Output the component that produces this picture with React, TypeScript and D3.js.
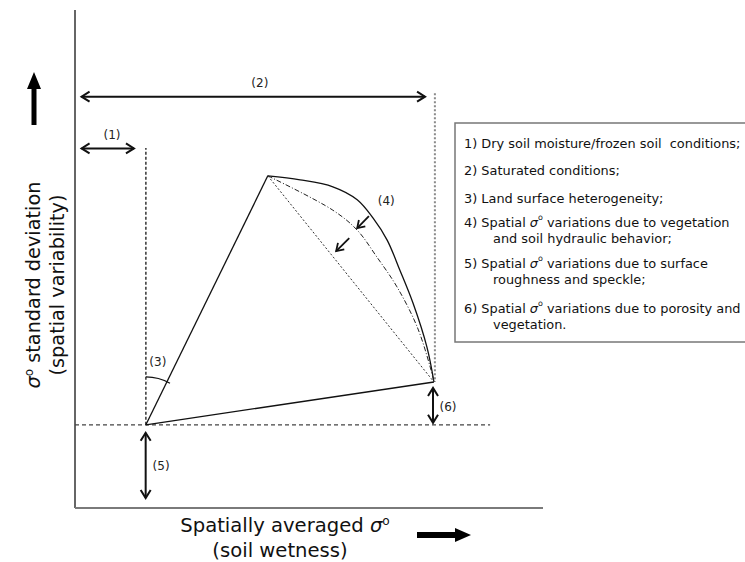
import React from "react";
import * as d3 from "d3";

const W = 745;
const H = 562;

// Conceptual space: spatially averaged backscatter (x) vs. its spatial std. dev. (y), 0–100
const xDomain = [0, 100];
const yDomain = [0, 100];

// Vertices of the triangle-like envelope
const dryPoint: [number, number] = [15.15, 16.7];
const peakPoint: [number, number] = [41.2, 66.7];
const wetPoint: [number, number] = [76.7, 25.3];

// Upper (solid) envelope from peak to wet end
const upperEnvelope: [number, number][] = [
  [41.2, 66.7], [48.1, 65.9], [55.1, 64.5], [60.3, 61.9], [63.7, 58.2],
  [66.7, 53.8], [69.4, 47.8], [72.2, 41.2], [75.2, 32.3], [76.7, 25.3],
];

// Intermediate (dash-dot) envelope
const middleEnvelope: [number, number][] = [
  [41.2, 66.7], [55.1, 59.8], [60.3, 55.8], [64.5, 50.4], [68.8, 44.4],
  [73.1, 36.4], [75.9, 28.3], [76.7, 25.3],
];

// Small arrows showing the envelope shrinking
const shrinkArrows: [number, number][][] = [
  [[62.8, 58.6], [60.3, 56.2]],
  [[58.6, 54.2], [55.8, 51.6]],
];

// Reference guides
const baselineY = 16.7;
const baselineEnd = 88.7;
const dryGuideTop = 72.3;
const wetGuideX = 76.9;
const wetGuideTop = 83.3;

// Double-headed range arrows
const rangeArrows: { id: string; from: [number, number]; to: [number, number] }[] = [
  { id: "(2)", from: [1.4, 82.6], to: [74.8, 82.6] },
  { id: "(1)", from: [1.4, 72.2], to: [12.6, 72.2] },
  { id: "(5)", from: [15.1, 15.1], to: [15.1, 2.0] },
  { id: "(6)", from: [76.5, 24.1], to: [76.5, 17.1] },
];

// Tag labels: [text, x, y]
const tagLabels: [string, number, number][] = [
  ["(2)", 39.5, 85.3],
  ["(1)", 7.9, 74.9],
  ["(3)", 17.7, 29.3],
  ["(4)", 66.5, 61.6],
  ["(5)", 18.4, 8.4],
  ["(6)", 79.7, 20.3],
];

// Legend entries: each row may carry an italic sigma-nought
const legendRows: { parts: string[]; indent: boolean }[] = [
  { parts: ["1) Dry soil moisture/frozen soil  conditions;"], indent: false },
  { parts: ["2) Saturated conditions;"], indent: false },
  { parts: ["3) Land surface heterogeneity;"], indent: false },
  { parts: ["4) Spatial ", "σ", "o", " variations due to vegetation"], indent: false },
  { parts: ["and soil hydraulic behavior;"], indent: true },
  { parts: ["5) Spatial ", "σ", "o", " variations due to surface"], indent: false },
  { parts: ["roughness and speckle;"], indent: true },
  { parts: ["6) Spatial ", "σ", "o", " variations due to porosity and"], indent: false },
  { parts: ["vegetation."], indent: true },
];
const legendRowY = [143, 170, 198, 222, 238, 263, 279, 308, 324];

const FONT = "'DejaVu Sans', sans-serif";

const x = d3.scaleLinear().domain(xDomain).range([75, 543]);
const y = d3.scaleLinear().domain(yDomain).range([508, 10]);

const line = d3
  .line<[number, number]>()
  .x((d) => x(d[0]))
  .y((d) => y(d[1]));

const smooth = d3
  .line<[number, number]>()
  .x((d) => x(d[0]))
  .y((d) => y(d[1]))
  .curve(d3.curveCatmullRom.alpha(0.5));

// Open chevron head at point `tip`, pointing away from `from`
function chevron(from: [number, number], tip: [number, number], len = 8, half = 5) {
  const ang = Math.atan2(tip[1] - from[1], tip[0] - from[0]);
  const bx = tip[0] - len * Math.cos(ang);
  const by = tip[1] - len * Math.sin(ang);
  const nx = -Math.sin(ang) * half;
  const ny = Math.cos(ang) * half;
  return `M${bx + nx},${by + ny}L${tip[0]},${tip[1]}L${bx - nx},${by - ny}`;
}

function SigmaText({ parts, size }: { parts: string[]; size: number }) {
  return (
    <>
      {parts.map((p, i) => {
        if (p === "σ")
          return (
            <tspan key={i} fontStyle="italic">
              σ
            </tspan>
          );
        if (p === "o")
          return (
            <tspan key={i} fontSize={size * 0.62} dy={-size * 0.35}>
              o
            </tspan>
          );
        const prevSup = parts[i - 1] === "o";
        return (
          <tspan key={i} dy={prevSup ? size * 0.35 : undefined}>
            {p}
          </tspan>
        );
      })}
    </>
  );
}

export default function App() {
  const A: [number, number] = [x(dryPoint[0]), y(dryPoint[1])];
  const B: [number, number] = [x(peakPoint[0]), y(peakPoint[1])];
  const C: [number, number] = [x(wetPoint[0]), y(wetPoint[1])];

  // Angle marker (3) between vertical guide and the A–B side
  const abAngle = Math.atan2(B[1] - A[1], B[0] - A[0]);
  const arcPath = d3.path();
  arcPath.arc(A[0], A[1], 48, -Math.PI / 2, abAngle + 0.07);

  const legendX = 455;
  const legendTop = 123;
  const legendBottom = 342;

  return (
    <svg
      width={W}
      height={H}
      style={{ position: "absolute", left: 0, top: 0, background: "#fff" }}
      fontFamily={FONT}
    >
      {/* axes */}
      <line x1={x(0)} y1={y(100)} x2={x(0)} y2={y(0)} stroke="#333" strokeWidth={1.5} />
      <line x1={x(0)} y1={y(0)} x2={x(100)} y2={y(0)} stroke="#7a7a7a" strokeWidth={2.2} />

      {/* guides */}
      <line
        x1={x(0)}
        y1={y(baselineY)}
        x2={x(baselineEnd)}
        y2={y(baselineY)}
        stroke="#444"
        strokeWidth={1.3}
        strokeDasharray="4,3"
      />
      <line
        x1={A[0]}
        y1={A[1]}
        x2={A[0]}
        y2={y(dryGuideTop)}
        stroke="#000"
        strokeWidth={1.2}
        strokeDasharray="3,2"
      />
      <line
        x1={x(wetGuideX)}
        y1={y(wetGuideTop)}
        x2={x(wetGuideX)}
        y2={C[1]}
        stroke="#8a8a8a"
        strokeWidth={2}
        strokeDasharray="2,2"
      />

      {/* envelope */}
      <path d={line([dryPoint, peakPoint]) || ""} fill="none" stroke="#111" strokeWidth={1.3} />
      <path d={line([dryPoint, wetPoint]) || ""} fill="none" stroke="#111" strokeWidth={1.3} />
      <path d={smooth(upperEnvelope) || ""} fill="none" stroke="#111" strokeWidth={1.3} />
      <path
        d={smooth(middleEnvelope) || ""}
        fill="none"
        stroke="#222"
        strokeWidth={1}
        strokeDasharray="5,2,1,2"
      />
      <path
        d={line([peakPoint, wetPoint]) || ""}
        fill="none"
        stroke="#333"
        strokeWidth={1}
        strokeDasharray="2,2"
      />

      {/* angle marker */}
      <path d={arcPath.toString()} fill="none" stroke="#111" strokeWidth={1.3} />

      {/* shrink arrows */}
      {shrinkArrows.map((a, i) => {
        const p0: [number, number] = [x(a[0][0]), y(a[0][1])];
        const p1: [number, number] = [x(a[1][0]), y(a[1][1])];
        return (
          <g key={i} stroke="#111" strokeWidth={1.8} fill="none">
            <line x1={p0[0]} y1={p0[1]} x2={p1[0]} y2={p1[1]} />
            <path d={chevron(p0, p1, 7, 4.5)} />
          </g>
        );
      })}

      {/* range arrows */}
      {rangeArrows.map((a) => {
        const p0: [number, number] = [x(a.from[0]), y(a.from[1])];
        const p1: [number, number] = [x(a.to[0]), y(a.to[1])];
        return (
          <g key={a.id} stroke="#111" strokeWidth={2} fill="none">
            <line x1={p0[0]} y1={p0[1]} x2={p1[0]} y2={p1[1]} />
            <path d={chevron(p0, p1)} />
            <path d={chevron(p1, p0)} />
          </g>
        );
      })}

      {/* tags */}
      {tagLabels.map(([t, tx, ty]) => (
        <text
          key={t}
          x={x(tx)}
          y={y(ty)}
          fontSize={12}
          textAnchor="middle"
          dominantBaseline="central"
          fill="#222"
        >
          {t}
        </text>
      ))}

      {/* legend */}
      <rect
        x={legendX}
        y={legendTop}
        width={W - legendX + 5}
        height={legendBottom - legendTop}
        fill="#fff"
        stroke="#777"
        strokeWidth={1.5}
      />
      {legendRows.map((r, i) => (
        <text
          key={i}
          x={r.indent ? 493 : 464}
          y={legendRowY[i]}
          fontSize={12.9}
          dominantBaseline="central"
          fill="#111"
          style={{ whiteSpace: "pre" }}
        >
          <SigmaText parts={r.parts} size={12.9} />
        </text>
      ))}

      {/* axis titles */}
      <g transform={`translate(46,285) rotate(-90)`}>
        <text x={0} y={-6} fontSize={19.3} textAnchor="middle" fill="#111">
          <SigmaText parts={["σ", "o", " standard deviation"]} size={19.3} />
        </text>
        <text x={0} y={18} fontSize={19.3} textAnchor="middle" fill="#111">
          (spatial variability)
        </text>
      </g>
      <text x={285} y={532} fontSize={19.6} textAnchor="middle" fill="#111">
        <SigmaText parts={["Spatially averaged ", "σ", "o"]} size={19.6} />
      </text>
      <text x={280} y={557} fontSize={19.6} textAnchor="middle" fill="#111">
        (soil wetness)
      </text>

      {/* direction arrows */}
      <path d="M31.5,125 L31.5,89 L27,89 L34,72 L41,89 L36.5,89 L36.5,125 Z" fill="#000" />
      <path d="M417,532 L455,532 L455,528 L471,535 L455,542 L455,538 L417,538 Z" fill="#000" />
    </svg>
  );
}
